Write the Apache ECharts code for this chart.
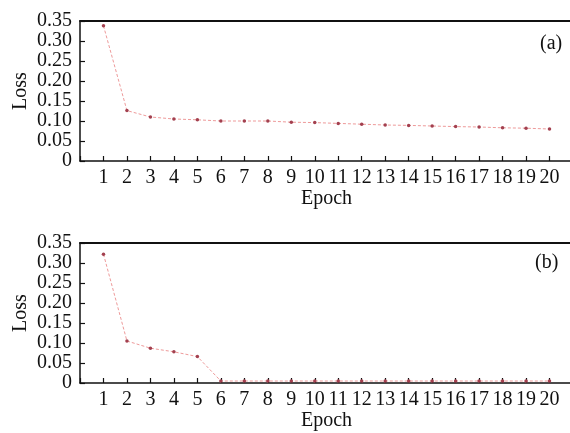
<!DOCTYPE html>
<html>
<head>
<meta charset="utf-8">
<script src="https://cdn.jsdelivr.net/npm/echarts@6/dist/echarts.min.js"></script>
<style>html,body{margin:0;padding:0;background:#fff}#c{width:570px;height:433px}</style>
</head>
<body>
<div id="c"></div>
<script>
var epochs = [1,2,3,4,5,6,7,8,9,10,11,12,13,14,15,16,17,18,19,20];
var lossA = [0.338,0.126,0.110,0.105,0.103,0.100,0.100,0.100,0.097,0.096,0.094,0.092,0.090,0.089,0.0875,0.086,0.085,0.083,0.082,0.080];
var lossB = [0.322,0.105,0.087,0.078,0.066,0.005,0.005,0.005,0.005,0.005,0.005,0.005,0.005,0.005,0.005,0.005,0.005,0.005,0.005,0.005];
var yTicks = [0,0.05,0.10,0.15,0.20,0.25,0.30,0.35];
var panelLabels = ['(a)','(b)'];

var FONT = 'Liberation Serif';
var FS = 20;
var chart = echarts.init(document.getElementById('c'), null, {renderer:'canvas'});

function xAxisMain(gi){
  return {
    type:'value', gridIndex:gi, min:0, max:21, interval:1,
    name:'Epoch', nameLocation:'middle', nameGap:28, nameMoveOverlap:false,
    nameTextStyle:{fontFamily:FONT, fontSize:FS, color:'#111'},
    axisLine:{show:true, onZero:false, lineStyle:{color:'#111', width:1.5}},
    axisTick:{show:true, inside:true, length:5, lineStyle:{color:'#111', width:1.2},
      interval:function(i,v){return v>=1 && v<=20;}},
    axisLabel:{fontFamily:FONT, fontSize:FS, color:'#111', margin:7,
      formatter:function(v){return (v>=1&&v<=20)?String(v):'';}},
    splitLine:{show:false}
  };
}
function xAxisTop(gi){
  return {
    type:'value', gridIndex:gi, position:'top', min:0, max:21,
    axisLine:{show:true, onZero:false, lineStyle:{color:'#111', width:2}},
    axisTick:{show:false}, axisLabel:{show:false}, splitLine:{show:false}
  };
}
function yAxisMain(gi){
  return {
    type:'value', gridIndex:gi, min:0, max:0.35, interval:0.05,
    name:'Loss', nameLocation:'middle', nameGap:49, nameMoveOverlap:false,
    nameTextStyle:{fontFamily:FONT, fontSize:FS, color:'#111'},
    axisLine:{show:true, onZero:false, lineStyle:{color:'#111', width:1.5}},
    axisTick:{show:true, inside:true, length:5, lineStyle:{color:'#111', width:1.2}},
    axisLabel:{fontFamily:FONT, fontSize:FS, color:'#111', margin:8,
      formatter:function(v){
        var t = yTicks.find(function(k){return Math.abs(k-v)<1e-9;});
        if (t===undefined) return '';
        return t===0 ? '0' : t.toFixed(2);
      }},
    splitLine:{show:false}
  };
}
function yAxisRight(gi){
  return {
    type:'value', gridIndex:gi, position:'right', min:0, max:0.35,
    axisLine:{show:true, onZero:false, lineStyle:{color:'#e4e4e4', width:1}},
    axisTick:{show:false}, axisLabel:{show:false}, splitLine:{show:false}
  };
}
function series(data, xi, yi){
  return {
    type:'line', xAxisIndex:xi, yAxisIndex:yi,
    data: epochs.map(function(e,i){return [e, data[i]];}),
    symbol:'circle', symbolSize:3.5,
    itemStyle:{color:'#a3404f'},
    lineStyle:{color:'#ee9a9a', width:1, type:[3,2]},
    emphasis:{disabled:true}, animation:false
  };
}

chart.setOption({
  animation:false,
  backgroundColor:'#fff',
  grid:[
    {left:80, top:21, width:493, height:140, outerBoundsMode:'none', containLabel:false},
    {left:80, top:243, width:493, height:140, outerBoundsMode:'none', containLabel:false}
  ],
  title:[
    {text:panelLabels[0], left:535, top:29, textStyle:{fontFamily:FONT, fontSize:FS, fontWeight:'normal', color:'#111'}},
    {text:panelLabels[1], left:530, top:248, textStyle:{fontFamily:FONT, fontSize:FS, fontWeight:'normal', color:'#111'}}
  ],
  xAxis:[xAxisMain(0), xAxisTop(0), xAxisMain(1), xAxisTop(1)],
  yAxis:[yAxisMain(0), yAxisRight(0), yAxisMain(1), yAxisRight(1)],
  series:[series(lossA,0,0), series(lossB,2,2)]
});
</script>
</body>
</html>
